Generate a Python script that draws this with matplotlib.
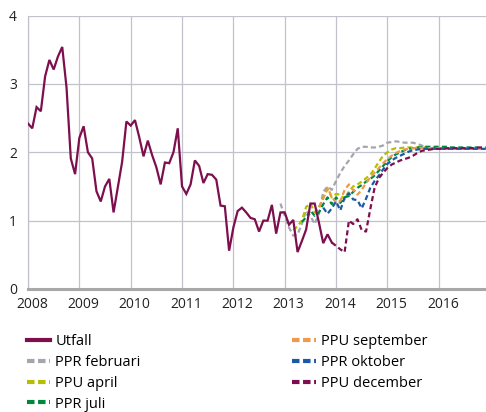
import matplotlib
matplotlib.use("Agg")
import matplotlib.pyplot as plt
import matplotlib.transforms as mtransforms
from matplotlib.lines import Line2D

plt.rcParams['font.family'] = ['Open Sans', 'DejaVu Sans']

# monthly values, index 0 = jan 2008
utfall_start = 0
utfall = [2.42, 2.35, 2.66, 2.60, 3.11, 3.35, 3.21, 3.40, 3.54, 2.95, 1.91, 1.68,
          2.21, 2.38, 2.00, 1.91, 1.43, 1.28, 1.50, 1.61, 1.12, 1.49, 1.86, 2.45,
          2.39, 2.47, 2.22, 1.94, 2.17, 1.96, 1.78, 1.53, 1.85, 1.84, 2.00, 2.35,
          1.50, 1.39, 1.53, 1.88, 1.80, 1.55, 1.68, 1.67, 1.60, 1.22, 1.21, 0.56,
          0.90, 1.14, 1.19, 1.12, 1.04, 1.02, 0.84, 1.00, 1.00, 1.23, 0.81, 1.12,
          1.12, 0.94, 1.01, 0.54, 0.70, 0.87, 1.25, 1.25, 0.97, 0.67, 0.80, 0.68]

ppr_feb_start = 59
ppr_feb = [1.25, 1.07, 0.90, 0.78, 0.80, 0.95, 1.15, 1.07, 0.95, 1.10, 1.42, 1.50,
           1.45, 1.58, 1.70, 1.80, 1.88, 1.97, 2.05, 2.08, 2.08, 2.07, 2.07, 2.08,
           2.10, 2.14, 2.15, 2.16, 2.15, 2.14, 2.14, 2.14, 2.12, 2.10, 2.06, 2.05, 2.05]

ppu_apr_start = 62
ppu_apr = [0.86, 0.92, 1.00, 1.20, 1.25, 1.12, 1.19, 1.34, 1.46, 1.34, 1.39, 1.38,
           1.31, 1.43, 1.50, 1.53, 1.57, 1.62, 1.67, 1.76, 1.86, 1.95, 2.00, 2.04,
           2.06, 2.06, 2.07, 2.07, 2.07, 2.07, 2.07, 2.07, 2.07, 2.06, 2.06, 2.06,
           2.06, 2.05, 2.05, 2.05, 2.05]

ppr_jul_start = 64
ppr_jul = [0.98, 1.05, 1.15, 1.07, 1.12, 1.24, 1.34, 1.24, 1.34, 1.26, 1.34, 1.36,
           1.42, 1.48, 1.52, 1.57, 1.61, 1.66, 1.73, 1.80, 1.87, 1.93, 1.97, 2.00,
           2.03, 2.05, 2.06, 2.07, 2.07, 2.08, 2.08, 2.08, 2.08, 2.08, 2.08, 2.07,
           2.07, 2.07, 2.07, 2.07, 2.07, 2.07]

ppu_sep_start = 67
ppu_sep = [1.10, 1.20, 1.32, 1.48, 1.35, 1.26, 1.29, 1.45, 1.53, 1.45, 1.38, 1.45,
           1.55, 1.63, 1.70, 1.77, 1.84, 1.90, 1.95, 1.99, 2.02, 2.04, 2.05, 2.06,
           2.06, 2.06, 2.06, 2.06, 2.06, 2.06, 2.05, 2.05, 2.05, 2.05, 2.05, 2.05,
           2.05, 2.05, 2.05, 2.05]

ppr_okt_start = 69
ppr_okt = [1.19, 1.10, 1.18, 1.28, 1.15, 1.34, 1.40, 1.31, 1.30, 1.18, 1.32, 1.48,
           1.58, 1.66, 1.75, 1.83, 1.88, 1.92, 1.95, 1.98, 2.01, 2.03, 2.04, 2.05,
           2.05, 2.05, 2.05, 2.05, 2.05, 2.05, 2.05, 2.05, 2.05, 2.05, 2.05, 2.05,
           2.05, 2.05, 2.05]

ppu_dec_start = 71
ppu_dec = [0.68, 0.63, 0.58, 0.54, 1.00, 0.95, 1.02, 0.86, 0.84, 1.17, 1.48, 1.62,
           1.70, 1.77, 1.82, 1.85, 1.88, 1.90, 1.92, 1.95, 1.99, 2.02, 2.03, 2.04,
           2.05, 2.05, 2.05, 2.06, 2.06, 2.06, 2.06, 2.06, 2.06, 2.06, 2.07, 2.07,
           2.07]

labels = ["Utfall", "PPR februari", "PPU april", "PPR juli",
          "PPU september", "PPR oktober", "PPU december"]
colors = ["#7d0f4f", "#a5a5ae", "#b5be00", "#00873e", "#ee9a4d", "#1a5aa5", "#7d0f4f"]
years = list(range(2008, 2017))


def months(start, vals):
    return [2008 + (start + k) / 12 for k in range(len(vals))]


fig = plt.figure(figsize=(4.86, 4.12), dpi=100)
ax = fig.add_axes([28 / 486, 1 - 289 / 412, 1 - 28 / 486, (289 - 15.5) / 412])

forecasts = [(ppr_feb_start, ppr_feb), (ppu_apr_start, ppu_apr), (ppr_jul_start, ppr_jul),
             (ppu_sep_start, ppu_sep), (ppr_okt_start, ppr_okt), (ppu_dec_start, ppu_dec)]
for (start, vals), c in zip(forecasts, colors[1:]):
    ax.plot(months(start, vals), vals, color=c, lw=1.6, dashes=(2.3, 1.4), zorder=3)
ax.plot(months(utfall_start, utfall), utfall, color=colors[0], lw=1.6, zorder=4,
        solid_joinstyle='miter')

ax.set_xlim(2008, 2016.92)
ax.set_ylim(0, 4)
ax.set_xticks(years)
ax.set_xticklabels([str(y) for y in years])
ax.set_yticks([0, 1, 2, 3, 4])
ax.grid(True, color="#c2c2cb", lw=0.9)
ax.set_axisbelow(True)
for s in ["top", "right"]:
    ax.spines[s].set_visible(False)
ax.spines["left"].set_color("#c2c2cb")
ax.spines["left"].set_linewidth(0.9)
ax.spines["bottom"].set_color("#a8a8a8")
ax.spines["bottom"].set_linewidth(2.2)
ax.tick_params(length=0, labelsize=10, colors="#222222")
ax.tick_params(axis="x", pad=6)
ax.tick_params(axis="y", pad=8)
shift = mtransforms.ScaledTranslation(4 / 100, 0, fig.dpi_scale_trans)
for lab in ax.get_xticklabels():
    lab.set_transform(lab.get_transform() + shift)

handles = [Line2D([], [], color=colors[0], lw=3)]
for c in colors[1:]:
    handles.append(Line2D([], [], color=c, lw=3, dashes=(1.8, 0.85)))
fig.legend(handles, labels, ncol=2, loc="upper left",
           bbox_to_anchor=(27 / 486, 1 - 334 / 412), frameon=False,
           fontsize=10.5, handlelength=1.6, handletextpad=0.35,
           columnspacing=10.4, labelspacing=0.4, borderpad=0, borderaxespad=0)

fig.savefig("out.png", dpi=100)
